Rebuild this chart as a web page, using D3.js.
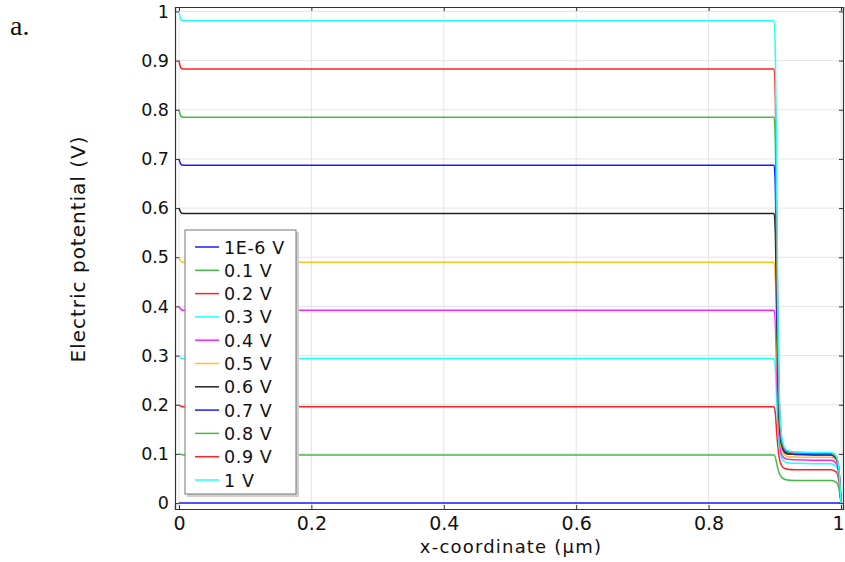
<!DOCTYPE html>
<html><head><meta charset="utf-8">
<script src="https://cdn.jsdelivr.net/npm/d3@7"></script>
<style>body{margin:0;background:#fff}svg{display:block}</style>
</head><body>
<script>
// ---- data ----
const xGrid = [0, 0.003, 0.006, 0.899, 0.901, 0.903, 0.905, 0.907, 0.910, 0.914, 0.919, 0.93, 0.96, 0.985, 0.993, 0.997, 1.0];
const seriesNames = ["1E-6 V","0.1 V","0.2 V","0.3 V","0.4 V","0.5 V","0.6 V","0.7 V","0.8 V","0.9 V","1 V"];
const seriesColors = ["#1a1aff","#44bb44","#ff2222","#22ffff","#ff22ff","#ffc21a","#222222","#1a1aff","#44bb44","#ff2222","#22ffff"];
const v1e6 = [0,0,0,0,0,0,0,0,0,0,0,0,0,0,0,0,0];
const v01 = [0.100,0.099,0.098,0.098,0.092,0.080,0.068,0.060,0.053,0.049,0.047,0.046,0.046,0.046,0.042,0.029,0];
const v02 = [0.200,0.197,0.196,0.196,0.180,0.140,0.110,0.090,0.077,0.071,0.069,0.068,0.068,0.068,0.063,0.043,0];
const v03 = [0.300,0.295,0.294,0.294,0.270,0.200,0.145,0.110,0.092,0.085,0.082,0.081,0.080,0.080,0.074,0.050,0];
const v04 = [0.400,0.394,0.392,0.392,0.360,0.260,0.180,0.130,0.100,0.092,0.089,0.088,0.087,0.087,0.080,0.054,0];
const v05 = [0.500,0.492,0.490,0.490,0.450,0.320,0.210,0.145,0.110,0.099,0.095,0.094,0.093,0.093,0.086,0.058,0];
const v06 = [0.600,0.591,0.589,0.589,0.540,0.380,0.240,0.160,0.120,0.105,0.100,0.099,0.098,0.098,0.090,0.061,0];
const v07 = [0.700,0.689,0.687,0.687,0.630,0.440,0.270,0.175,0.125,0.108,0.102,0.100,0.099,0.099,0.091,0.062,0];
const v08 = [0.800,0.787,0.785,0.785,0.720,0.500,0.300,0.190,0.130,0.111,0.104,0.102,0.101,0.101,0.093,0.063,0];
const v09 = [0.900,0.885,0.883,0.883,0.810,0.560,0.330,0.200,0.135,0.113,0.106,0.103,0.102,0.102,0.094,0.064,0];
const v10 = [1.000,0.983,0.981,0.981,0.900,0.620,0.360,0.210,0.140,0.115,0.107,0.104,0.103,0.103,0.095,0.065,0];
const seriesValues = [v1e6,v01,v02,v03,v04,v05,v06,v07,v08,v09,v10];
const xTicks = [0,0.2,0.4,0.6,0.8,1];
const yTicks = [0,0.1,0.2,0.3,0.4,0.5,0.6,0.7,0.8,0.9,1];

// ---- layout ----
const W = 845, H = 562;
const L = 175, R = 843, T = 7, B = 509;
const svg = d3.select("body").append("svg").attr("width", W).attr("height", H);
const x = d3.scaleLinear().domain([-0.006, 1.003]).range([L, R]);
const y = d3.scaleLinear().domain([-0.012, 1.009]).range([B, T]);
const font = "DejaVu Sans, sans-serif";

// grid
const g = svg.append("g");
g.selectAll(".gx").data(xTicks).join("line")
  .attr("x1", d => x(d)).attr("x2", d => x(d)).attr("y1", T).attr("y2", B)
  .attr("stroke", "#e4e4e4").attr("stroke-width", 1);
g.selectAll(".gy").data(yTicks).join("line")
  .attr("y1", d => y(d)).attr("y2", d => y(d)).attr("x1", L).attr("x2", R)
  .attr("stroke", "#e4e4e4").attr("stroke-width", 1);

// clip
svg.append("clipPath").attr("id", "clip").append("rect")
  .attr("x", L).attr("y", T - 2).attr("width", R - L).attr("height", B - T + 2);

const line = d3.line().x(d => x(d[0])).y(d => y(d[1])).curve(d3.curveMonotoneX);
svg.append("g").attr("clip-path", "url(#clip)")
  .selectAll("path").data(seriesValues).join("path")
  .attr("d", vals => line(xGrid.map((xv, i) => [xv, vals[i]])))
  .attr("fill", "none")
  .attr("stroke", (d, i) => seriesColors[i])
  .attr("stroke-width", 1.5)
  .attr("stroke-linejoin", "round");

// axes (frame with inward ticks)
const axL = d3.axisLeft(y).tickValues(yTicks).tickSize(-4).tickPadding(6).tickFormat(d3.format("~g"));
const axB = d3.axisBottom(x).tickValues(xTicks).tickSize(-4).tickPadding(8).tickFormat(d3.format("~g"));
const axR = d3.axisRight(y).tickValues(yTicks).tickSize(-4).tickFormat("");
const axT = d3.axisTop(x).tickValues(xTicks).tickSize(-4).tickFormat("");
function styleAxis(sel, size) {
  sel.select(".domain").attr("stroke", "#333").attr("stroke-width", 1.2);
  sel.selectAll(".tick line").attr("stroke", "#333");
  sel.selectAll("text").attr("font-family", font).attr("font-size", size).attr("fill", "#111");
}
svg.append("g").attr("transform", `translate(${L},0)`).call(axL).call(styleAxis, 17.5);
const gB = svg.append("g").attr("transform", `translate(0,${B})`).call(axB).call(styleAxis, 19);
gB.selectAll(".tick text").filter(d => d === 1).attr("text-anchor", "end").attr("x", 3);
svg.append("g").attr("transform", `translate(${R},0)`).call(axR).call(styleAxis, 16);
svg.append("g").attr("transform", `translate(0,${T})`).call(axT).call(styleAxis, 16);

// axis titles
svg.append("text").attr("x", 511).attr("y", 553).attr("text-anchor", "middle")
  .attr("font-family", font).attr("font-size", 18).attr("letter-spacing", 1.2)
  .attr("fill", "#111").text("x-coordinate (µm)");
svg.append("text").attr("transform", "translate(85,249) rotate(-90)").attr("text-anchor", "middle")
  .attr("font-family", font).attr("font-size", 20).attr("letter-spacing", 1)
  .attr("fill", "#111").text("Electric potential (V)");

// panel label
svg.append("text").attr("x", 10).attr("y", 35)
  .attr("font-family", "Liberation Serif, Times New Roman, serif").attr("font-size", 28).attr("fill", "#111").text("a.");

// legend
const lg = svg.append("g");
lg.append("rect").attr("x", 187).attr("y", 232).attr("width", 112).attr("height", 265).attr("fill", "#cfcfcf");
lg.append("rect").attr("x", 185).attr("y", 230).attr("width", 111).attr("height", 264)
  .attr("fill", "#fff").attr("stroke", "#777").attr("stroke-width", 1);
const rows = lg.selectAll("g.row").data(seriesNames).join("g")
  .attr("transform", (d, i) => `translate(0,${247 + i * 23.3})`);
rows.append("line").attr("x1", 195).attr("x2", 219).attr("y1", 0).attr("y2", 0)
  .attr("stroke", (d, i) => seriesColors[i]).attr("stroke-width", 1.5);
rows.append("text").attr("x", 224).attr("y", 6.5).attr("font-family", font).attr("font-size", 17.5)
  .attr("letter-spacing", 0.6).attr("fill", "#111").text(d => d);
</script>
</body></html>
